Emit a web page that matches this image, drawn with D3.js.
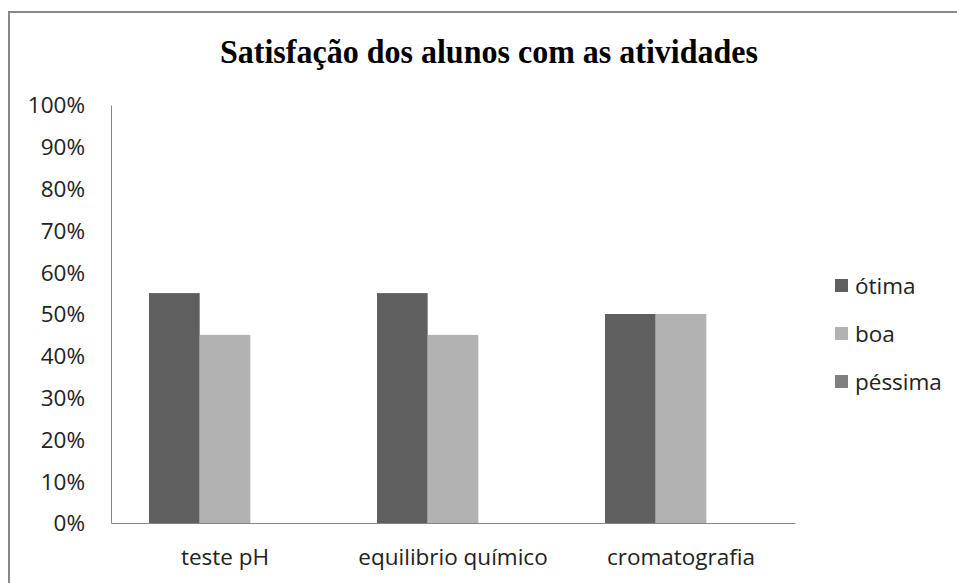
<!DOCTYPE html>
<html>
<head>
<meta charset="utf-8">
<script src="https://cdn.jsdelivr.net/npm/d3@7"></script>
<style>
body { margin: 0; background: #fff; }
</style>
</head>
<body>
<svg id="chart"></svg>
<script>
var categories = ["teste pH", "equilibrio químico", "cromatografia"];
var seriesNames = ["ótima", "boa", "péssima"];
var otima   = [0.55, 0.55, 0.50];
var boa     = [0.45, 0.45, 0.50];
var pessima = [0, 0, 0];
var yTicks = [0, 0.1, 0.2, 0.3, 0.4, 0.5, 0.6, 0.7, 0.8, 0.9, 1.0];

var colors = ["#5f5f5f", "#b2b2b2", "#808080"];

var W = 957, H = 583;
var margin = {top: 105, left: 111, right: 162, bottom: 60};
var width = W - margin.left - margin.right,
    height = H - margin.top - margin.bottom;

var table = categories.map(function(c, i) {
    return {cat: c, values: [
        {name: seriesNames[0], v: otima[i]},
        {name: seriesNames[1], v: boa[i]},
        {name: seriesNames[2], v: pessima[i]}
    ]};
});

var svg = d3.select("#chart").attr("width", W).attr("height", H);

// outer frame
svg.append("rect")
    .attr("x", 9).attr("y", 12)
    .attr("width", W).attr("height", H)
    .attr("fill", "none")
    .attr("stroke", "#888")
    .attr("stroke-width", 2);

svg.append("text")
    .attr("x", 489).attr("y", 63)
    .attr("text-anchor", "middle")
    .style("font-family", "Liberation Serif, Times New Roman, serif")
    .style("font-weight", "bold")
    .style("font-size", "34px")
    .attr("textLength", 538)
    .attr("lengthAdjust", "spacingAndGlyphs")
    .text("Satisfação dos alunos com as atividades");

var g = svg.append("g")
    .attr("transform", "translate(" + margin.left + "," + margin.top + ")");

var x0 = d3.scaleBand().domain(categories).range([0, width]);
var x1 = d3.scaleBand().domain(seriesNames).range([38, x0.bandwidth() - 38]);
var y = d3.scaleLinear().domain([0, 1]).range([height, 0]);
var color = d3.scaleOrdinal().domain(seriesNames).range(colors);

var fontUI = "Open Sans, Noto Sans, sans-serif";
var fs = "22.5px";

var yAxis = d3.axisLeft(y).tickValues(yTicks).tickSize(0).tickPadding(26)
    .tickFormat(d3.format(".0%"));
var yG = g.append("g").call(yAxis);
yG.select(".domain").attr("stroke", "#868686");
yG.selectAll("text")
    .style("font-family", fontUI).style("font-size", fs).attr("fill", "#222")
    .attr("dy", "0.35em");

var slice = g.selectAll(".slice")
    .data(table)
    .enter().append("g")
    .attr("class", "slice")
    .attr("transform", function(d) { return "translate(" + x0(d.cat) + ",0)"; });

slice.selectAll("rect")
    .data(function(d) { return d.values; })
    .enter().append("rect")
    .attr("x", function(d) { return x1(d.name); })
    .attr("width", x1.bandwidth())
    .attr("y", function(d) { return y(d.v); })
    .attr("height", function(d) { return height - y(d.v); })
    .attr("fill", function(d) { return color(d.name); });

var xAxis = d3.axisBottom(x0).tickSize(0).tickPadding(26);
var xG = g.append("g").attr("transform", "translate(0," + height + ")").call(xAxis);
xG.select(".domain").attr("stroke", "#868686");
xG.selectAll("text")
    .style("font-family", fontUI).style("font-size", fs).attr("fill", "#222");

// legend
var legend = svg.selectAll(".legend")
    .data(seriesNames)
    .enter().append("g")
    .attr("class", "legend")
    .attr("transform", function(d, i) { return "translate(835," + (286 + i * 48) + ")"; });

legend.append("rect")
    .attr("x", 0).attr("y", -7)
    .attr("width", 13).attr("height", 13)
    .attr("fill", function(d) { return color(d); });

legend.append("text")
    .attr("x", 20).attr("y", 0)
    .attr("dy", "0.35em")
    .style("font-family", fontUI).style("font-size", fs).attr("fill", "#222")
    .text(function(d) { return d; });
</script>
</body>
</html>
